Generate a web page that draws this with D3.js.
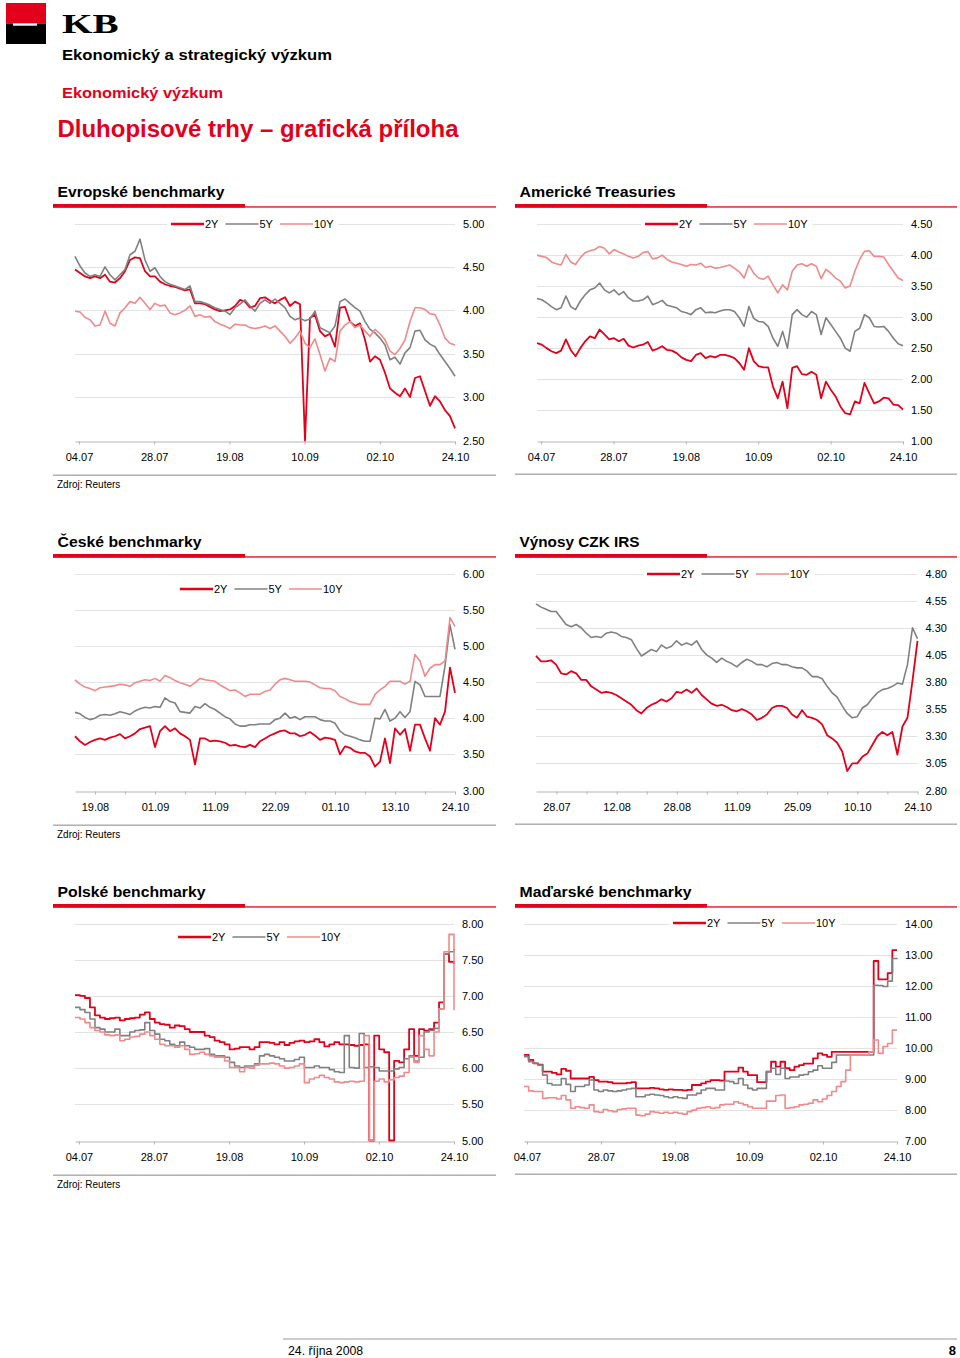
<!DOCTYPE html>
<html><head><meta charset="utf-8">
<script src="https://cdn.jsdelivr.net/npm/d3@7"></script>
<style>
body{margin:0;background:#fff}
svg{display:block}
text{font-family:"Liberation Sans",Arial,Helvetica,sans-serif}
</style>
</head><body>
<svg id="page" width="960" height="1358"></svg>
<script>
// ---------------- DATA ----------------
const seriesNames = ["2Y","5Y","10Y"];

const euTicks = ["04.07","28.07","19.08","10.09","02.10","24.10"];
const euYTicks = [2.5,3.0,3.5,4.0,4.5,5.0];
const eu2Y = [4.47,4.43,4.39,4.37,4.39,4.37,4.41,4.33,4.32,4.37,
 4.45,4.58,4.61,4.60,4.45,4.39,4.39,4.33,4.30,4.28,
 4.27,4.25,4.23,4.24,4.08,4.08,4.07,4.04,4.01,3.99,
 4.00,4.01,4.05,4.12,4.10,4.03,4.05,4.14,4.15,4.11,
 4.08,4.12,4.15,4.05,4.10,4.07,2.50,3.91,3.95,3.76,
 3.70,3.73,3.58,4.03,4.04,3.87,3.82,3.85,3.66,3.41,
 3.47,3.43,3.28,3.10,3.05,3.01,3.10,3.00,3.22,3.24,
 3.07,2.90,3.01,2.95,2.85,2.78,2.64];
const eu5Y = [4.62,4.51,4.43,4.39,4.41,4.39,4.50,4.41,4.35,4.41,
 4.47,4.64,4.68,4.82,4.58,4.45,4.49,4.39,4.33,4.30,
 4.28,4.26,4.24,4.28,4.10,4.10,4.08,4.06,4.03,4.01,
 3.99,3.95,4.03,4.07,4.12,4.05,3.99,4.08,4.12,4.08,
 4.13,4.08,4.03,3.93,3.89,3.91,3.88,3.90,3.99,3.80,
 3.77,3.74,3.82,4.10,4.13,4.08,4.03,3.99,3.87,3.78,
 3.74,3.68,3.60,3.43,3.46,3.38,3.51,3.57,3.76,3.77,
 3.66,3.61,3.58,3.49,3.41,3.33,3.24];
const eu10Y = [3.99,3.98,3.92,3.89,3.82,3.83,3.99,3.85,3.82,3.97,
 4.03,4.10,4.08,4.15,4.08,4.01,4.08,4.05,4.06,3.97,
 3.95,3.97,4.00,4.05,3.93,3.95,3.92,3.93,3.87,3.84,
 3.82,3.79,3.84,3.83,3.83,3.80,3.79,3.80,3.82,3.79,
 3.82,3.76,3.70,3.62,3.68,3.76,3.62,3.57,3.67,3.49,
 3.30,3.45,3.41,3.76,3.83,3.87,3.80,3.83,3.76,3.70,
 3.78,3.73,3.66,3.53,3.49,3.56,3.66,3.87,4.03,4.03,
 4.01,3.96,3.95,3.83,3.68,3.62,3.60];

const usTicks = ["04.07","28.07","19.08","10.09","02.10","24.10"];
const usYTicks = [1.0,1.5,2.0,2.5,3.0,3.5,4.0,4.5];
const us2Y = [2.57,2.545,2.49,2.44,2.41,2.45,2.63,2.46,2.36,2.49,
 2.60,2.68,2.65,2.79,2.71,2.63,2.65,2.60,2.64,2.53,
 2.50,2.53,2.545,2.59,2.45,2.48,2.52,2.46,2.45,2.41,
 2.34,2.30,2.28,2.38,2.41,2.33,2.36,2.34,2.38,2.38,
 2.36,2.33,2.25,2.14,2.49,2.28,2.20,2.18,2.18,1.87,
 1.68,1.95,1.52,2.17,2.20,2.07,2.06,2.11,2.06,1.68,
 1.95,1.82,1.71,1.55,1.44,1.42,1.63,1.60,1.93,1.76,
 1.60,1.63,1.69,1.68,1.58,1.57,1.50];
const us5Y = [3.29,3.27,3.22,3.16,3.11,3.14,3.33,3.16,3.11,3.25,
 3.35,3.43,3.46,3.54,3.43,3.38,3.43,3.35,3.40,3.30,
 3.25,3.25,3.27,3.33,3.19,3.22,3.26,3.18,3.16,3.14,
 3.08,3.06,3.03,3.11,3.14,3.06,3.07,3.06,3.09,3.11,
 3.11,3.08,2.98,2.84,3.16,2.97,2.92,2.91,2.84,2.65,
 2.52,2.76,2.49,3.03,3.11,3.03,2.99,3.08,3.03,2.71,
 2.98,2.87,2.76,2.65,2.49,2.44,2.76,2.81,3.03,2.98,
 2.84,2.83,2.84,2.76,2.65,2.56,2.53];
const us10Y = [3.99,3.97,3.95,3.88,3.85,3.83,4.00,3.88,3.84,3.95,
 4.03,4.06,4.08,4.13,4.10,4.01,4.08,4.04,4.01,3.97,
 3.945,3.97,4.03,4.05,3.93,3.945,3.99,3.92,3.88,3.86,
 3.84,3.81,3.84,3.83,3.86,3.79,3.81,3.78,3.79,3.81,
 3.83,3.78,3.72,3.62,3.83,3.70,3.62,3.60,3.65,3.51,
 3.38,3.51,3.43,3.73,3.83,3.85,3.81,3.85,3.81,3.61,
 3.76,3.70,3.62,3.57,3.46,3.49,3.73,3.92,4.05,4.06,
 3.97,3.97,3.96,3.84,3.73,3.62,3.58];

const czTicks = ["19.08","01.09","11.09","22.09","01.10","13.10","24.10"];
const czYTicks = [3.0,3.5,4.0,4.5,5.0,5.5,6.0];
const cz2Y = [3.75,3.68,3.63,3.67,3.70,3.72,3.70,3.73,3.75,3.78,
 3.72,3.75,3.79,3.85,3.87,3.89,3.60,3.82,3.89,3.82,
 3.86,3.79,3.75,3.70,3.36,3.72,3.72,3.68,3.69,3.68,
 3.66,3.62,3.63,3.61,3.60,3.63,3.60,3.68,3.72,3.76,
 3.79,3.82,3.83,3.79,3.79,3.75,3.77,3.81,3.76,3.70,
 3.73,3.72,3.70,3.50,3.61,3.59,3.54,3.52,3.52,3.47,
 3.33,3.40,3.72,3.38,3.86,3.77,3.85,3.55,3.91,3.91,
 3.72,3.55,4.00,3.91,4.09,4.70,4.35];
const cz5Y = [4.08,4.06,4.01,3.98,4.00,4.04,4.05,4.04,4.06,4.09,
 4.07,4.05,4.10,4.13,4.15,4.14,4.16,4.15,4.28,4.23,
 4.21,4.09,4.08,4.07,4.16,4.14,4.20,4.15,4.12,4.07,
 4.02,3.99,3.92,3.89,3.89,3.91,3.91,3.92,3.92,3.92,
 3.98,4.00,4.07,4.00,4.02,3.98,4.02,4.02,4.02,3.98,
 3.96,3.96,3.93,3.82,3.77,3.75,3.73,3.70,3.68,3.68,
 4.00,3.99,4.12,3.96,4.00,4.09,4.01,4.09,4.51,4.46,
 4.30,4.30,4.30,4.30,4.72,5.29,4.95];
const cz10Y = [4.53,4.47,4.43,4.41,4.38,4.42,4.43,4.44,4.45,4.47,
 4.46,4.44,4.49,4.51,4.53,4.52,4.55,4.51,4.59,4.56,
 4.52,4.49,4.47,4.44,4.49,4.55,4.53,4.52,4.51,4.46,
 4.42,4.38,4.39,4.35,4.30,4.33,4.33,4.33,4.37,4.39,
 4.47,4.53,4.55,4.53,4.51,4.51,4.51,4.50,4.46,4.42,
 4.41,4.41,4.38,4.30,4.27,4.23,4.21,4.19,4.19,4.19,
 4.33,4.39,4.44,4.51,4.51,4.51,4.47,4.51,4.88,4.79,
 4.58,4.69,4.74,4.74,4.79,5.39,5.27];

const irsTicks = ["28.07","12.08","28.08","11.09","25.09","10.10","24.10"];
const irsYTicks = [2.80,3.05,3.30,3.55,3.80,4.05,4.30,4.55,4.80];
const irs2Y = [4.04,3.99,3.99,4.00,3.96,3.88,3.87,3.90,3.88,3.82,
 3.82,3.76,3.73,3.70,3.71,3.70,3.68,3.65,3.62,3.59,
 3.54,3.51,3.56,3.59,3.61,3.64,3.62,3.65,3.71,3.70,
 3.73,3.70,3.74,3.68,3.64,3.60,3.58,3.59,3.57,3.54,
 3.53,3.55,3.53,3.50,3.45,3.47,3.50,3.56,3.58,3.58,
 3.56,3.50,3.47,3.54,3.48,3.47,3.45,3.41,3.31,3.28,
 3.24,3.16,2.98,3.05,3.05,3.11,3.14,3.22,3.30,3.34,
 3.31,3.34,3.13,3.39,3.47,3.81,4.18];
const irs5Y = [4.52,4.49,4.47,4.45,4.45,4.39,4.33,4.31,4.33,4.30,
 4.25,4.21,4.22,4.21,4.25,4.26,4.25,4.22,4.21,4.19,
 4.11,4.04,4.07,4.10,4.08,4.14,4.11,4.13,4.18,4.14,
 4.16,4.14,4.18,4.10,4.05,4.02,3.98,4.02,3.99,3.97,
 3.94,3.98,4.01,3.99,3.96,3.96,3.94,3.97,3.98,3.96,
 3.96,3.94,3.93,3.93,3.90,3.85,3.85,3.83,3.76,3.70,
 3.66,3.58,3.51,3.47,3.48,3.56,3.59,3.65,3.70,3.73,
 3.74,3.76,3.79,3.78,3.96,4.30,4.20];
const irs10Y = [];

const plTicks = ["04.07","28.07","19.08","10.09","02.10","24.10"];
const plYTicks = [5.0,5.5,6.0,6.5,7.0,7.5,8.0];
const pl2Y = [7.01,7.00,6.97,6.84,6.73,6.70,6.68,6.69,6.70,6.66,
 6.68,6.69,6.70,6.74,6.77,6.68,6.63,6.61,6.60,6.56,
 6.59,6.58,6.54,6.50,6.50,6.50,6.45,6.43,6.38,6.36,
 6.33,6.26,6.27,6.29,6.29,6.26,6.29,6.36,6.36,6.35,
 6.33,6.36,6.32,6.35,6.37,6.38,6.36,6.37,6.40,6.36,
 6.30,6.33,6.36,6.33,6.33,6.32,6.31,6.32,6.33,5.00,
 6.45,6.26,6.22,5.00,6.10,6.08,6.26,6.54,6.17,6.54,
 6.52,6.54,6.63,6.91,7.58,7.47,7.44];
const pl5Y = [6.84,6.81,6.77,6.68,6.56,6.54,6.50,6.50,6.54,6.45,
 6.45,6.50,6.52,6.53,6.63,6.52,6.47,6.40,6.38,6.33,
 6.31,6.36,6.31,6.29,6.26,6.26,6.27,6.19,6.17,6.17,
 6.15,6.08,6.03,6.01,6.03,6.03,6.06,6.17,6.19,6.17,
 6.15,6.13,6.10,6.10,6.12,6.15,6.01,6.01,6.03,6.01,
 6.01,5.98,5.95,5.94,6.45,6.01,6.00,6.48,6.01,6.02,
 6.01,5.96,5.96,5.96,5.99,6.01,6.13,6.17,6.10,6.15,
 6.50,6.52,6.55,6.82,7.58,7.61,7.65];
const pl10Y = [6.70,6.68,6.63,6.56,6.52,6.50,6.46,6.45,6.46,6.38,
 6.40,6.43,6.44,6.47,6.50,6.45,6.40,6.33,6.31,6.31,
 6.29,6.31,6.26,6.19,6.20,6.22,6.19,6.17,6.15,6.15,
 6.10,6.01,6.01,5.95,6.01,6.00,6.04,6.06,6.06,6.07,
 6.06,6.03,6.00,6.01,6.03,6.06,5.80,5.85,5.87,5.90,
 5.87,5.85,5.81,5.80,5.81,5.82,5.81,5.82,6.45,5.00,
 5.82,5.85,5.81,5.84,5.87,5.89,5.94,6.15,6.08,6.45,
 6.26,6.17,6.50,6.82,7.61,7.85,6.80];

const huTicks = ["04.07","28.07","19.08","10.09","02.10","24.10"];
const huYTicks = [7,8,9,10,11,12,13,14];
const hu2Y = [9.76,9.60,9.49,9.45,9.22,9.22,9.18,9.13,9.31,9.25,
 9.00,9.00,9.00,9.00,9.05,8.95,8.90,8.90,8.88,8.84,
 8.84,8.84,8.86,8.88,8.68,8.68,8.68,8.70,8.68,8.65,
 8.63,8.65,8.63,8.63,8.62,8.63,8.79,8.79,8.84,8.90,
 8.95,8.95,8.93,9.22,9.22,9.22,9.35,9.22,9.11,9.11,
 8.88,8.88,9.22,9.54,9.38,9.54,9.33,9.27,9.38,9.43,
 9.48,9.48,9.65,9.81,9.76,9.70,9.86,9.86,9.86,9.86,
 9.86,9.86,9.86,9.86,9.86,12.79,12.20,12.20,12.40,13.14,
 13.14];
const hu5Y = [9.70,9.54,9.49,9.43,9.11,8.84,8.79,8.79,9.00,8.81,
 8.58,8.74,8.74,8.79,8.95,8.63,8.58,8.63,8.60,8.58,
 8.60,8.63,8.66,8.68,8.41,8.41,8.47,8.49,8.47,8.45,
 8.41,8.38,8.41,8.38,8.36,8.47,8.47,8.52,8.63,8.68,
 8.68,8.63,8.63,8.92,8.90,8.84,9.00,8.79,8.68,8.63,
 8.68,8.68,9.22,9.33,9.13,9.33,9.00,9.05,9.05,9.11,
 9.13,9.22,9.27,9.41,9.33,9.33,9.52,9.76,9.76,9.76,
 9.76,9.76,9.76,9.76,9.76,12.01,12.00,11.97,12.14,12.87,
 12.85];
const hu10Y = [8.74,8.60,8.58,8.58,8.36,8.38,8.38,8.34,8.45,8.31,
 8.04,8.09,8.06,8.04,8.15,7.93,7.91,8.00,7.96,7.93,
 8.00,8.02,8.04,8.04,7.82,7.80,7.85,7.93,7.91,7.88,
 7.91,7.88,7.91,7.88,7.85,7.93,7.98,8.04,8.06,8.09,
 8.04,8.06,8.15,8.17,8.17,8.25,8.20,8.15,8.09,8.04,
 8.04,8.04,8.27,8.27,8.45,8.47,8.04,8.06,8.09,8.15,
 8.17,8.20,8.31,8.25,8.34,8.45,8.58,8.74,8.90,9.27,
 9.76,9.76,9.76,9.76,9.86,10.24,9.81,10.03,10.13,10.56,
 10.56];

// ---------------- STYLE / LAYOUT ----------------
const RED = "#e3001b";
const lineColors = ["#e3001b", "#808080", "#f08a8a"];
const lineWidths = [1.8, 1.6, 1.6];
const svg = d3.select("#page");

const panels = [
  {title:"Evropské benchmarky", titleW:167, col:0, row:0, left:75, right:455, d:[-0.053,5], ticks:euTicks, minor:false,
   y:[2.5,5], yTicks:euYTicks, series:[eu2Y,eu5Y,eu10Y], legend:{x:171,y:224}, source:true, curve:d3.curveLinear},
  {title:"Americké Treasuries", titleW:156, col:1, row:0, left:537, right:903, d:[-0.056,5], ticks:usTicks, minor:false,
   y:[1,4.5], yTicks:usYTicks, series:[us2Y,us5Y,us10Y], legend:{x:645,y:224}, source:false, curve:d3.curveLinear},
  {title:"České benchmarky", titleW:144, col:0, row:1, left:75, right:455, d:[-0.333,6], ticks:czTicks, minor:true,
   y:[3,6], yTicks:czYTicks, series:[cz2Y,cz5Y,cz10Y], legend:{x:180,y:589}, source:true, curve:d3.curveLinear},
  {title:"Výnosy CZK IRS", titleW:120, col:1, row:1, left:536, right:917.5, d:[-0.34,6], ticks:irsTicks, minor:true,
   y:[2.8,4.8], yTicks:irsYTicks, series:[irs2Y,irs5Y,irs10Y], legend:{x:647,y:574}, source:false, curve:d3.curveLinear},
  {title:"Polské benchmarky", titleW:148, col:0, row:2, left:75, right:454, d:[-0.053,5], ticks:plTicks, minor:false,
   y:[5,8], yTicks:plYTicks, series:[pl2Y,pl5Y,pl10Y], legend:{x:178,y:937}, source:true, curve:d3.curveStepAfter},
  {title:"Maďarské benchmarky", titleW:172, col:1, row:2, left:524, right:897, d:[-0.04,5], ticks:huTicks, minor:false,
   y:[7,14], yTicks:huYTicks, series:[hu2Y,hu5Y,hu10Y], legend:{x:673,y:923}, source:false, curve:d3.curveStepAfter, clipLabel:514}
];

// ---------------- HEADER ----------------
svg.append("rect").attr("x",6).attr("y",3).attr("width",40).attr("height",20.5).attr("fill",RED);
svg.append("rect").attr("x",6).attr("y",23.5).attr("width",40).attr("height",20.5).attr("fill","#000");
svg.append("rect").attr("x",13).attr("y",23.3).attr("width",24).attr("height",2.4).attr("fill","#fff");
svg.append("text").attr("transform","translate(62,33.3) scale(1.4,1)")
  .style("font-family","'Liberation Serif','Times New Roman',serif").attr("font-weight","bold")
  .attr("font-size",28).attr("fill","#000").text("KB");
svg.append("text").attr("x",62).attr("y",60).attr("font-size",15).attr("font-weight","bold")
  .attr("textLength",270).attr("lengthAdjust","spacingAndGlyphs").text("Ekonomický a strategický výzkum");
svg.append("text").attr("x",62).attr("y",98).attr("font-size",15).attr("font-weight","bold").attr("fill",RED)
  .attr("textLength",161).attr("lengthAdjust","spacingAndGlyphs").text("Ekonomický výzkum");
svg.append("text").attr("x",57.5).attr("y",136.5).attr("font-size",23).attr("font-weight","bold").attr("fill",RED)
  .attr("textLength",401).attr("lengthAdjust","spacingAndGlyphs").text("Dluhopisové trhy – grafická příloha");

// ---------------- PANELS ----------------
panels.forEach(p => {
  const off = p.row*350;
  const c = p.col===0 ? {title:57.5, l:53, r:496, thick:245} : {title:519.5, l:515, r:957, thick:707};
  const g = svg.append("g");
  g.append("text").attr("x",c.title).attr("y",197+off).attr("font-size",15.5).attr("font-weight","bold")
    .attr("textLength",p.titleW).attr("lengthAdjust","spacingAndGlyphs").text(p.title);
  g.append("rect").attr("x",c.l).attr("y",206.3+off).attr("width",c.r-c.l).attr("height",1.3).attr("fill",RED);
  g.append("rect").attr("x",c.l).attr("y",204+off).attr("width",c.thick-c.l).attr("height",3.6).attr("fill",RED);

  const top = 223.5+off, bottom = 440.5+off;
  const x = d3.scaleLinear().domain(p.d).range([p.left,p.right]);
  const y = d3.scaleLinear().domain(p.y).range([bottom,top]);

  // gridlines
  g.append("g").selectAll("line").data(p.yTicks.slice(1)).join("line")
    .attr("x1",p.left).attr("x2",p.right)
    .attr("y1",d=>Math.round(y(d))+0.5).attr("y2",d=>Math.round(y(d))+0.5)
    .attr("stroke","#e3e3e3").attr("stroke-width",1);

  // y labels
  const ya = g.append("g").attr("transform",`translate(${p.right},0)`)
    .call(d3.axisRight(y).tickValues(p.yTicks).tickFormat(d3.format(".2f")).tickSize(0).tickPadding(8));
  ya.select(".domain").remove();
  ya.selectAll("text").attr("font-size",11).attr("fill","#000").style("font-family","'Liberation Sans',Arial,sans-serif");

  // x axis
  const idx = d3.range(p.ticks.length);
  const xa = g.append("g").attr("transform",`translate(0,${Math.round(bottom)+0.5})`)
    .call(d3.axisBottom(x).tickValues(idx).tickFormat(i=>p.ticks[i]).tickSize(3).tickSizeOuter(0).tickPadding(9));
  xa.select(".domain").attr("stroke","#b5b5b5");
  xa.selectAll(".tick line").attr("stroke","#b5b5b5");
  xa.selectAll("text").attr("font-size",11).attr("fill","#000").style("font-family","'Liberation Sans',Arial,sans-serif");
  if (p.clipLabel) {
    const cid = "clipx"+p.row+p.col;
    svg.append("clipPath").attr("id",cid).append("rect")
      .attr("x",p.clipLabel).attr("y",-5).attr("width",500).attr("height",40);
    xa.attr("clip-path",`url(#${cid})`);
  }
  if (p.minor) {
    const mi = d3.range(p.ticks.length).map(i=>i-0.5).filter(v=>v>=p.d[0]);
    const ma = g.append("g").attr("transform",`translate(0,${Math.round(bottom)+0.5})`)
      .call(d3.axisBottom(x).tickValues(mi).tickFormat("").tickSize(3).tickSizeOuter(0));
    ma.select(".domain").remove();
    ma.selectAll(".tick line").attr("stroke","#b5b5b5");
  }

  // lines
  p.series.forEach((s,k) => {
    if (!s.length) return;
    const n = s.length;
    const pos = i => p.d[0] + i*(p.d[1]-p.d[0])/(n-1);
    const line = d3.line().x((d,i)=>x(pos(i))).y(d=>y(d)).curve(p.curve);
    g.append("path").datum(s).attr("d",line).attr("fill","none")
      .attr("stroke",lineColors[k]).attr("stroke-width",lineWidths[k]).attr("stroke-linejoin","round");
  });

  // legend
  const ly = p.legend.y;
  const lg = g.append("g");
  const bg = lg.append("rect").attr("fill","#fff").attr("y",ly-7).attr("height",14).attr("x",p.legend.x-4);
  let lx = p.legend.x;
  seriesNames.forEach((nm,k) => {
    lg.append("line").attr("x1",lx).attr("x2",lx+33).attr("y1",ly).attr("y2",ly)
      .attr("stroke",lineColors[k]).attr("stroke-width",k===0?2.3:1.6);
    const t = lg.append("text").attr("x",lx+34).attr("y",ly+4).attr("font-size",11).text(nm);
    lx += 34 + t.node().getComputedTextLength() + 7;
  });
  bg.attr("width",lx-p.legend.x+2);

  // separator + source
  g.append("rect").attr("x",c.l).attr("y",(p.col===0?474.5:473.5)+off).attr("width",c.r-c.l).attr("height",1.4).attr("fill","#a9a9a9");
  if (p.source) {
    g.append("text").attr("x",57).attr("y",488+off).attr("font-size",10).text("Zdroj: Reuters");
  }
});

// ---------------- FOOTER ----------------
svg.append("rect").attr("x",283).attr("y",1338.5).attr("width",674).attr("height",1).attr("fill","#999");
svg.append("text").attr("x",288).attr("y",1355).attr("font-size",12.3).text("24. října 2008");
svg.append("text").attr("x",956).attr("y",1355).attr("font-size",13).attr("font-weight","bold").attr("text-anchor","end").text("8");
</script>
</body></html>
